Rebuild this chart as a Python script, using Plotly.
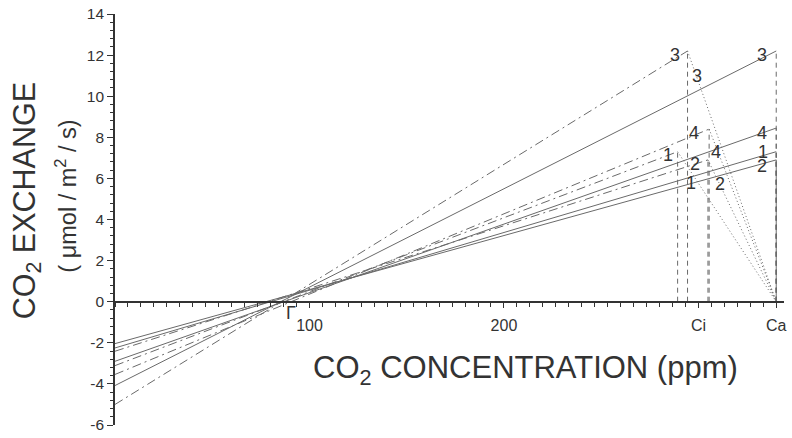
import plotly.graph_objects as go

# ---------------- data ----------------
CA = 340                                   # ambient CO2 (ppm)
TREATMENTS = ["1", "2", "3", "4"]
A_AT_CA = [7.3, 6.9, 12.2, 8.45]           # end of solid lines at Ca
SOLID_AT_ZERO = [-2.25, -2.04, -4.08, -2.9]  # solid lines at 0 ppm
CI = [289.3, 304.9, 294.4, 305.5]          # internal CO2 (ppm)
A_AT_CI = [7.3, 6.9, 12.2, 8.4]            # end of dash-dot lines at Ci
DASHDOT_AT_ZERO = [-3.11, -2.41, -5.0, -3.54]  # dash-dot lines at 0 ppm

X_TICKS = [100, 200, 300, 340]
X_TICK_TEXT = ["100", "200", "Ci", "Ca"]
Y_TICKS = [-6, -4, -2, 0, 2, 4, 6, 8, 10, 12, 14]
Y_TICK_TEXT = [str(v) for v in Y_TICKS]

# label placement (text positions only, pixel offsets)
CA_LABEL_SHIFT = [(-13, 0), (-14, -6), (-14, -4), (-14, -5)]
CI_LABEL_SHIFT = [(-10, -3), (-12.5, -4), (-13, -4), (-15, -4)]
MID_LABELS = [("3", 299.5, 11.0), ("4", 308.9, 7.27), ("1", 296.0, 5.78), ("2", 311.3, 5.75)]

LINE_COLOR = "#6a6a6a"
TEXT_COLOR = "#333333"
FONT = "Liberation Sans, Arial, sans-serif"
DASHDOT = "9px,4px,2px,4px"
DASHED = "5px,4px"
DOTTED = "1px,2.5px"

fig = go.Figure()


def add_line(xs, ys, dash="solid", width=1, color=LINE_COLOR):
    fig.add_trace(go.Scatter(x=xs, y=ys, mode="lines",
                             line=dict(color=color, width=width, dash=dash),
                             hoverinfo="skip", showlegend=False))


for i, t in enumerate(TREATMENTS):
    # solid line through Gamma to (Ca, A)
    add_line([0, CA], [SOLID_AT_ZERO[i], A_AT_CA[i]])
    # dash-dot line through Gamma to (Ci, A)
    add_line([0, CI[i]], [DASHDOT_AT_ZERO[i], A_AT_CI[i]], dash=DASHDOT)
    # dashed vertical at Ci
    add_line([CI[i], CI[i]], [0, A_AT_CI[i]], dash=DASHED)
    # dotted supply line from (Ci, A) to (Ca, 0)
    add_line([CI[i], CA], [A_AT_CI[i], 0], dash=DOTTED)
    # dashed vertical at Ca
    add_line([CA, CA], [0, A_AT_CA[i]], dash=DASHED)

# solid part of the Ca vertical
add_line([CA, CA], [0, min(A_AT_CA)])

annotations = []
lab_font = dict(family=FONT, size=18, color=TEXT_COLOR)
for i, t in enumerate(TREATMENTS):
    annotations.append(dict(x=CA, y=A_AT_CA[i], text=t, showarrow=False,
                            xshift=CA_LABEL_SHIFT[i][0], yshift=CA_LABEL_SHIFT[i][1],
                            font=lab_font))
    annotations.append(dict(x=CI[i], y=A_AT_CI[i], text=t, showarrow=False,
                            xshift=CI_LABEL_SHIFT[i][0], yshift=CI_LABEL_SHIFT[i][1],
                            font=lab_font))
for t, x, y in MID_LABELS:
    annotations.append(dict(x=x, y=y, text=t, showarrow=False, font=lab_font))

# Gamma label
annotations.append(dict(x=90.6, y=-0.55, text="\u0393", showarrow=False,
                        font=dict(family=FONT, size=18, color=TEXT_COLOR)))

# axis titles
annotations.append(dict(xref="paper", yref="paper", x=-0.132, y=0.546,
                        text="CO<sub>2</sub> EXCHANGE", textangle=-90,
                        showarrow=False, xanchor="center", yanchor="middle",
                        font=dict(family=FONT, size=30.5, color=TEXT_COLOR)))
annotations.append(dict(xref="paper", yref="paper", x=-0.073, y=0.556,
                        text="( \u03bcmol / m<sup>2</sup> / s)", textangle=-90,
                        showarrow=False, xanchor="center", yanchor="middle",
                        font=dict(family=FONT, size=23.5, color=TEXT_COLOR)))
annotations.append(dict(xref="paper", yref="paper", x=0.613, y=0.135,
                        text="CO<sub>2</sub> CONCENTRATION (ppm)",
                        showarrow=False, xanchor="center", yanchor="middle",
                        font=dict(family=FONT, size=31, color=TEXT_COLOR)))

fig.update_layout(
    width=792, height=438,
    margin=dict(l=115, r=5, t=14, b=12),
    paper_bgcolor="white", plot_bgcolor="white",
    showlegend=False,
    annotations=annotations,
    xaxis=dict(range=[0, 344], anchor="free", position=0.3,
               showline=True, linecolor="#333333", linewidth=1.6,
               showgrid=False, zeroline=False,
               ticks="outside", ticklen=5, tickwidth=1, tickcolor="#333333",
               tickvals=X_TICKS, ticktext=X_TICK_TEXT,
               ticklabelstandoff=4,
               tickfont=dict(family=FONT, size=16, color=TEXT_COLOR),
               minor=dict(dtick=100 / 15, tick0=0, ticks="outside", ticklen=4,
                          tickcolor="#333333", tickwidth=1, showgrid=False)),
    yaxis=dict(range=[-6, 14], showline=True, linecolor="#333333", linewidth=1.6,
               showgrid=False, zeroline=False,
               ticks="outside", ticklen=6, tickwidth=1, tickcolor="#333333",
               tickvals=Y_TICKS, ticktext=Y_TICK_TEXT,
               tickfont=dict(family=FONT, size=15.5, color=TEXT_COLOR),
               minor=dict(dtick=0.4, tick0=0, ticks="outside", ticklen=3,
                          tickcolor="#333333", tickwidth=1, showgrid=False)),
)

fig.write_html("out.html")
